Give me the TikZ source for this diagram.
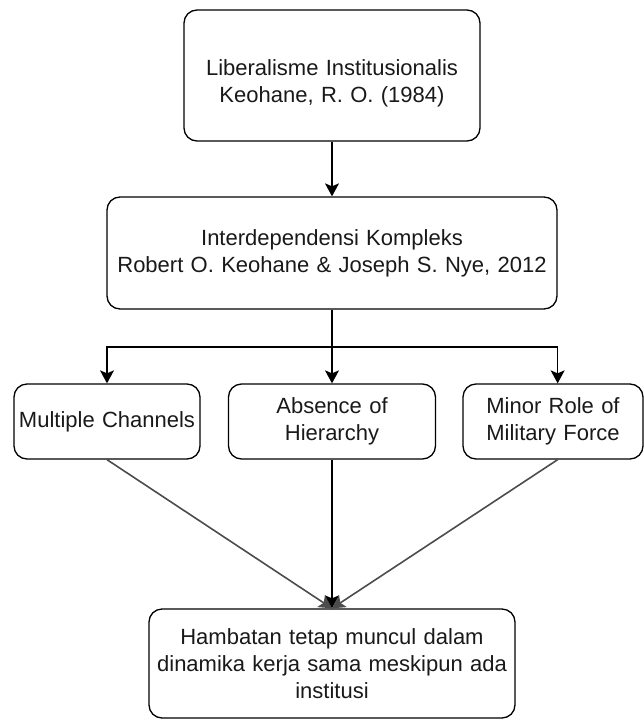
\documentclass[tikz,border=0pt]{standalone}
\usepackage{fontspec}
\setmainfont{Liberation Sans}
\usetikzlibrary{arrows.meta}
\begin{document}
\begin{tikzpicture}[x=1pt,y=-1pt,
	box/.style={draw=black,line width=1.3pt,rounded corners=13pt,align=center,inner sep=0pt,font=\fontsize{22}{27}\selectfont,text=black!90},
	arr/.style={line width=1.3pt,-{Stealth[length=13pt,width=14pt,inset=3pt]}},
	diag/.style={arr,line width=1.6pt,draw=black!70}]

		\useasboundingbox (0,0) rectangle (644,720);

		%theory nodes
		\node[box,minimum width=296pt,minimum height=131pt,text width=290pt] (lib) at (332,75.5) {\rule{0pt}{32pt}Liberalisme Institusionalis\\Keohane, R. O. (1984)};
		\node[box,minimum width=450pt,minimum height=112pt,text width=440pt] (mid) at (332,253) {Interdependensi Kompleks\\Robert O. Keohane \& Joseph S. Nye, 2012};

		%characteristic nodes
		\node[box,minimum width=186pt,minimum height=75pt,text width=186pt] (mc) at (107,421.5) {Multiple Channels};
		\node[box,minimum width=207pt,minimum height=75pt,text width=200pt] (ah) at (332,421.5) {Absence of\\Hierarchy};
		\node[box,minimum width=180pt,minimum height=75pt,text width=176pt] (mr) at (553,421.5) {Minor Role of\\Military Force};

		%result node
		\node[box,minimum width=366pt,minimum height=109pt,text width=360pt] (bot) at (332,663.5) {Hambatan tetap muncul dalam\\dinamika kerja sama meskipun ada\\institusi};

		%edges
		\coordinate (fork) at (332,347);
		\draw[arr] (lib) -- (mid);
		\draw[line width=1.3pt] (mid.south) -- (fork);
		\draw[arr] (fork) -| (mc.north);
		\draw[arr] (fork) -- (ah.north);
		\draw[arr] (fork) -| (mid.east |- mr.north);
		\draw[diag] (mc.south) -- (bot.north);
		\draw[arr] (ah.south) -- (bot.north);
		\draw[diag] (mid.east |- mr.south) -- (bot.north);
\end{tikzpicture}
\end{document}
